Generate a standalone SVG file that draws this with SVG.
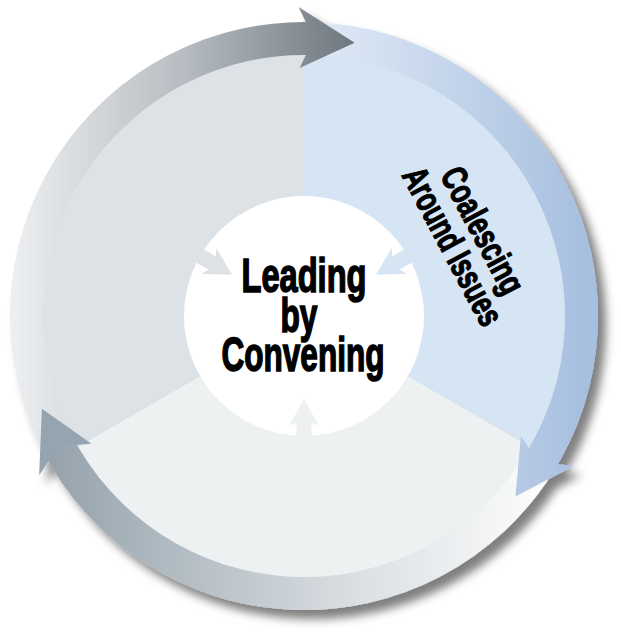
<svg xmlns="http://www.w3.org/2000/svg" width="621" height="635" viewBox="0 0 621 635">
  <style>
    .center-text { font-family: "Liberation Sans Narrow", "Liberation Sans", Arial, sans-serif; font-weight: bold; font-size: 48px; fill: #000; stroke: #000; stroke-width: 1.6; text-anchor: middle; }
    .side-text { font-family: "Liberation Sans Narrow", "Liberation Sans", Arial, sans-serif; font-weight: bold; font-size: 36px; fill: #000; stroke: #000; stroke-width: 1.2; text-anchor: middle; }
  </style>
  <defs>
    <linearGradient id="gTop" gradientUnits="userSpaceOnUse" x1="15" y1="0" x2="355" y2="0">
      <stop offset="0" stop-color="#eceef0"/>
      <stop offset="0.5" stop-color="#b6bcc1"/>
      <stop offset="1" stop-color="#6d777e"/>
    </linearGradient>
    <linearGradient id="gRight" gradientUnits="userSpaceOnUse" x1="310" y1="0" x2="580" y2="0">
      <stop offset="0" stop-color="#e2ebf6"/>
      <stop offset="1" stop-color="#a8c0e0"/>
    </linearGradient>
    <linearGradient id="gBottom" gradientUnits="userSpaceOnUse" x1="560" y1="0" x2="40" y2="0">
      <stop offset="0" stop-color="#ffffff"/>
      <stop offset="0.35" stop-color="#dfe3e6"/>
      <stop offset="1" stop-color="#93a1ab"/>
    </linearGradient>
    <filter id="shadow" x="-10%" y="-10%" width="125%" height="125%">
      <feDropShadow dx="8" dy="9" stdDeviation="5" flood-color="#000" flood-opacity="0.5"/>
    </filter>
  </defs>

  <g id="cycle" filter="url(#shadow)">
    <g id="sectors">
      <path id="sector-top-left" d="M304 316 L77.10 447 A262 262 0 0 1 304 54 Z" fill="#dde2e6"/>
      <path id="sector-right" d="M304 316 L304 54 A262 262 0 0 1 530.90 447 Z" fill="#d6e5f4"/>
      <path id="sector-bottom" d="M304 316 L530.90 447 A262 262 0 0 1 77.10 447 Z" fill="#eef1f2"/>
    </g>
    <g id="connectors">
      <path id="band-top" d="M44.41 454.02 A294 294 0 0 1 319.39 22.40 L317.66 55.36 A261 261 0 0 0 73.55 438.53 Z" fill="url(#gTop)"/>
      <path id="band-right" d="M314.26 22.18 A294 294 0 0 1 550.57 476.12 L522.89 458.15 A261 261 0 0 0 313.11 55.16 Z" fill="url(#gRight)"/>
      <path id="band-bottom" d="M553.33 471.80 A294 294 0 0 1 42.04 449.47 L71.45 434.49 A261 261 0 0 0 525.34 454.31 Z" fill="url(#gBottom)"/>
      <path id="head-top" d="M298.61 7.05 L354.66 42.66 L299.67 68.04 L313.68 38.67 Z" fill="url(#gTop)"/>
      <path id="head-right" d="M574.26 465.81 L515.39 496.55 L520.91 436.23 L539.33 463.05 Z" fill="url(#gRight)"/>
      <path id="head-bottom" d="M39.14 475.15 L41.95 408.80 L91.42 443.73 L58.98 446.28 Z" fill="#95a4ae"/>
    </g>
    <g id="hub">
      <circle cx="304" cy="316" r="120" fill="#ffffff"/>
      <path id="in-arrow-bottom" transform="translate(304 316)" d="M0 83 L15 110 L7.5 106 L7.5 126 L-7.5 126 L-7.5 106 L-15 110 Z" fill="#eef1f2"/>
      <path id="in-arrow-top-left" transform="translate(304 316) rotate(120)" d="M0 83 L15 110 L7.5 106 L7.5 126 L-7.5 126 L-7.5 106 L-15 110 Z" fill="#dde2e6"/>
      <path id="in-arrow-right" transform="translate(304 316) rotate(-120)" d="M0 83 L15 110 L7.5 106 L7.5 126 L-7.5 126 L-7.5 106 L-15 110 Z" fill="#d6e5f4"/>
    </g>
  </g>

  <g id="node-center">
    <text class="center-text"><tspan x="304" y="292" textLength="125" lengthAdjust="spacingAndGlyphs">Leading</tspan><tspan x="299" y="332" textLength="37" lengthAdjust="spacingAndGlyphs">by</tspan><tspan x="303" y="371" textLength="163" lengthAdjust="spacingAndGlyphs">Convening</tspan></text>
  </g>

  <g id="node-coalescing" transform="translate(472 236) rotate(62)">
    <text class="side-text"><tspan x="0" y="0" textLength="138" lengthAdjust="spacingAndGlyphs">Coalescing</tspan><tspan x="0" y="34" textLength="174" lengthAdjust="spacingAndGlyphs">Around Issues</tspan></text>
  </g>
</svg>
